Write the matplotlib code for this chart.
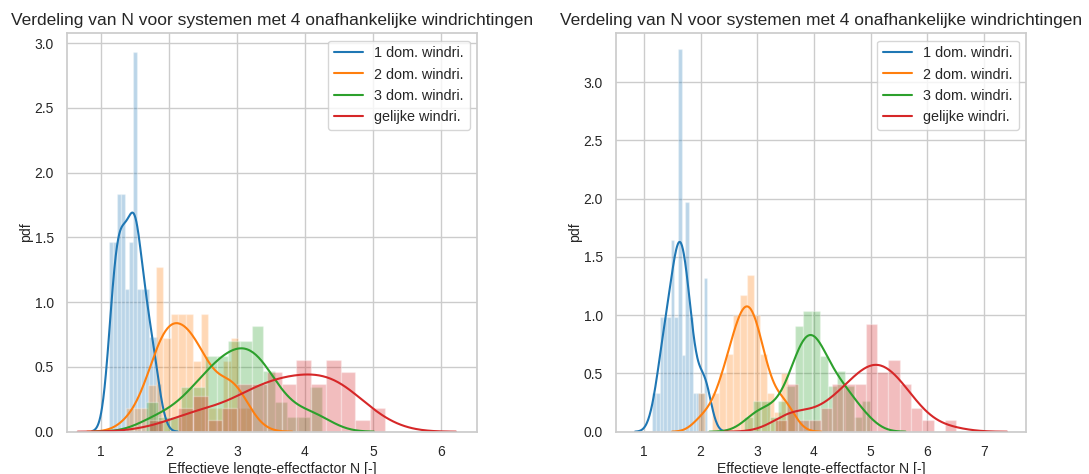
import numpy as np
import matplotlib
matplotlib.use('Agg')
import matplotlib.pyplot as plt
import seaborn as sns


TITLE = 'Verdeling van N voor systemen met 4 onafhankelijke windrichtingen'
XLABEL = 'Effectieve lengte-effectfactor N [-]'
LABELS = ['1 dom. windri.', '2 dom. windri.', '3 dom. windri.', 'gelijke windri.']
COLORS = ['#1f77b4', '#ff7f0e', '#2ca02c', '#d62728']

# Each series: first bin edge, bin width, number of systems per bin
# Left panel
left_1dom_start, left_1dom_width = 1.126, 0.058
left_1dom_counts = [4, 4, 5, 5, 3, 4, 8, 3, 3, 3, 2, 2, 1]
left_2dom_start, left_2dom_width = 1.3725, 0.11
left_2dom_counts = [1, 1, 1, 2, 7, 4, 5, 5, 5, 3, 5, 1, 1, 3, 4, 1, 1]
left_3dom_start, left_3dom_width = 1.67, 0.172
left_3dom_counts = [2, 1, 1, 3, 3, 5, 5, 6, 6, 7, 4, 2, 1, 1, 3]
left_eq_start, left_eq_width = 1.705, 0.217
left_eq_counts = [1, 0, 2, 3, 1, 2, 4, 4, 5, 4, 6, 4, 6, 5, 1, 2]

# Right panel
right_1dom_start, right_1dom_width = 1.15, 0.0647
right_1dom_counts = [1, 1, 3, 3, 3, 5, 3, 10, 2, 6, 3, 1, 1, 1, 4]
right_2dom_start, right_2dom_width = 1.96, 0.1217
right_2dom_counts = [2, 0, 2, 3, 4, 6, 7, 8, 6, 4, 2, 1, 3, 1]
right_3dom_start, right_3dom_width = 2.774, 0.148
right_3dom_counts = [1, 2, 2, 1, 2, 3, 7, 8, 8, 5, 3, 4, 3, 1, 2]
right_eq_start, right_eq_width = 3.3206, 0.1993
right_eq_counts = [1, 4, 1, 1, 2, 4, 4, 4, 9, 5, 6, 4, 2, 1, 0, 1]


sns.set_theme(style='whitegrid')
plt.rcParams['font.family'] = ['Liberation Sans', 'DejaVu Sans']


def draw_panel(ax, series, xlim, ylim, xticks):
  for (start, width, counts), color, label in zip(series, COLORS, LABELS):
    edges = start + width * np.arange(len(counts) + 1)
    centers = edges[:-1] + width / 2
    samples = np.repeat(centers, counts)
    ax.hist(samples, bins=edges, density=True, color=color, alpha=0.3,
            edgecolor='white', linewidth=1.0)
    # scott bandwidth as statsmodels computes it (1.059 factor)
    sns.kdeplot(x=samples, ax=ax, color=color, linewidth=1.5, label=label,
                bw_adjust=1.06)

  ax.set_xlim(xlim)
  ax.set_ylim(ylim)
  ax.set_xticks(xticks)
  ax.set_yticks(np.arange(0, 3.01, 0.5))
  ax.yaxis.set_major_formatter(matplotlib.ticker.FormatStrFormatter('%.1f'))
  ax.tick_params(labelsize=10, colors='#262626')
  ax.set_title(TITLE, fontsize=12.5)
  ax.set_xlabel(XLABEL, fontsize=10.1, labelpad=2)
  ax.set_ylabel('pdf', fontsize=10.1, labelpad=1)
  ax.legend(loc='upper right', fontsize=10.4)


fig, (ax1, ax2) = plt.subplots(1, 2, figsize=(10.89, 4.74), dpi=100)
fig.subplots_adjust(left=0.0615, right=0.9421, wspace=0.339,
                    top=0.9297, bottom=0.0892)

draw_panel(ax1, [(left_1dom_start, left_1dom_width, left_1dom_counts),
                 (left_2dom_start, left_2dom_width, left_2dom_counts),
                 (left_3dom_start, left_3dom_width, left_3dom_counts),
                 (left_eq_start, left_eq_width, left_eq_counts)],
           (0.505, 6.529), (0, 3.076), range(1, 7))

draw_panel(ax2, [(right_1dom_start, right_1dom_width, right_1dom_counts),
                 (right_2dom_start, right_2dom_width, right_2dom_counts),
                 (right_3dom_start, right_3dom_width, right_3dom_counts),
                 (right_eq_start, right_eq_width, right_eq_counts)],
           (0.506, 7.74), (0, 3.42), range(1, 8))

fig.savefig('out.png', dpi=100)
